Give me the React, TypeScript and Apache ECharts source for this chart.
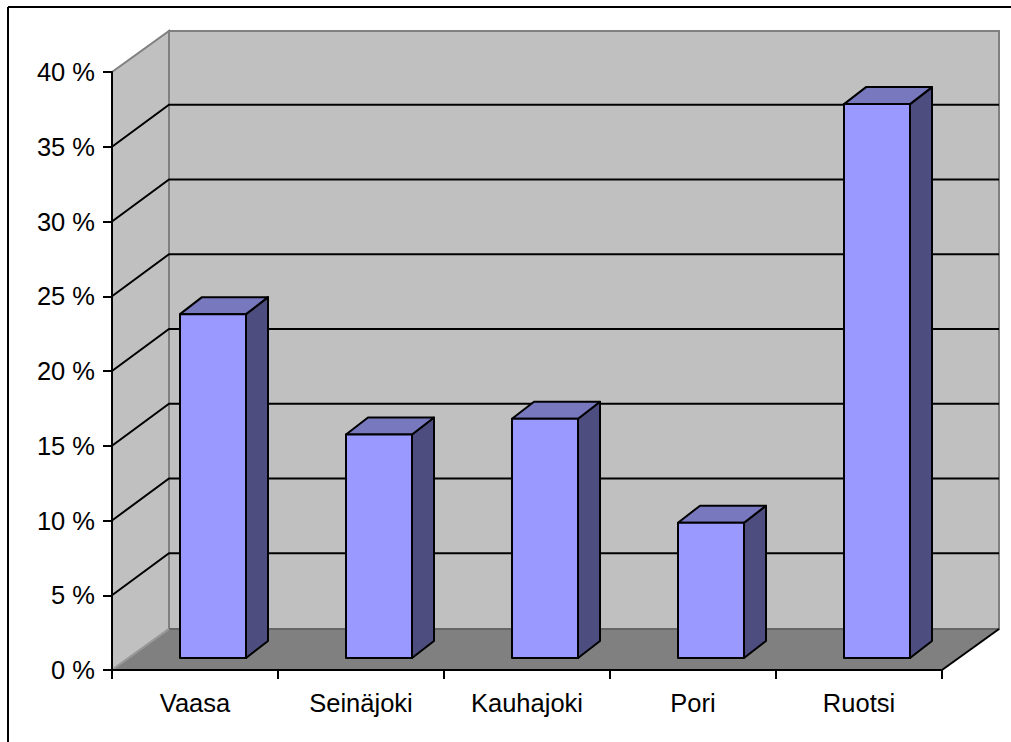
import React, { useEffect, useRef } from "react";
import * as echarts from "echarts";

const categories = ["Vaasa", "Seinäjoki", "Kauhajoki", "Pori", "Ruotsi"];
const shares = [23.0, 14.95, 16.0, 9.05, 37.05];
const gridValues = [5, 10, 15, 20, 25, 30, 35];

const DEPTH_X = 57;
const DEPTH_Y = 41;
const GRID_DEPTH_Y = 42;
const BAR_SHIFT_X = 18;
const BAR_SHIFT_Y = 12;
const BAR_WIDTH = 66;
const BAR_DEPTH_X = 22;
const BAR_DEPTH_Y = 17;

export default function App() {
  const ref = useRef<HTMLDivElement>(null);
  useEffect(() => {
    const chart = echarts.init(ref.current!, undefined, { renderer: "svg" });
    const font = { fontFamily: "Liberation Sans", fontSize: 25.5, color: "#000" };
    chart.setOption({
      animation: false,
      backgroundColor: "#fff",
      graphic: [
        { type: "line", shape: { x1: 8, y1: 7, x2: 8, y2: 742 }, style: { stroke: "#000", lineWidth: 2 } },
        { type: "line", shape: { x1: 8, y1: 7, x2: 1011, y2: 7 }, style: { stroke: "#000", lineWidth: 2 } },
      ],
      grid: { left: 112, top: 72, width: 830, height: 598 },
      xAxis: {
        type: "category",
        data: categories,
        z: 10,
        axisLine: { lineStyle: { color: "#000", width: 2 } },
        axisTick: { show: true, alignWithLabel: false, length: 9, lineStyle: { color: "#000", width: 2 } },
        axisLabel: { ...font, margin: 20, interval: 0 },
        splitLine: { show: false },
      },
      yAxis: {
        type: "value",
        min: 0,
        max: 40,
        interval: 5,
        z: 10,
        axisLine: { show: true, lineStyle: { color: "#000", width: 2 } },
        axisTick: { show: true, length: 9, lineStyle: { color: "#000", width: 2 } },
        axisLabel: { ...font, margin: 17, formatter: "{value} %" },
        splitLine: { show: false },
      },
      series: [
        {
          type: "custom",
          z: 1,
          silent: true,
          clip: false,
          data: [[0, 0]],
          renderItem: (params: any) => {
            const c = params.coordSys;
            const l = c.x, r = c.x + c.width, t = c.y, b = c.y + c.height;
            const gray = { stroke: "#808080", lineWidth: 2 };
            return {
              type: "group",
              children: [
                { type: "polygon", shape: { points: [[l + DEPTH_X, t - DEPTH_Y], [r + DEPTH_X, t - DEPTH_Y], [r + DEPTH_X, b - DEPTH_Y], [l + DEPTH_X, b - DEPTH_Y]] }, style: { fill: "#c0c0c0", ...gray } },
                { type: "polygon", shape: { points: [[l, t], [l + DEPTH_X, t - DEPTH_Y], [l + DEPTH_X, b - DEPTH_Y], [l, b]] }, style: { fill: "#c0c0c0", ...gray } },
                { type: "polygon", shape: { points: [[l, b], [l + DEPTH_X, b - DEPTH_Y], [r + DEPTH_X, b - DEPTH_Y], [r, b]] }, style: { fill: "#808080", stroke: "none" } },
                { type: "line", shape: { x1: l + DEPTH_X, y1: b - DEPTH_Y, x2: r + DEPTH_X, y2: b - DEPTH_Y }, style: { stroke: "#666", lineWidth: 2 } },
                { type: "line", shape: { x1: l, y1: b, x2: l + DEPTH_X, y2: b - DEPTH_Y }, style: { stroke: "#999", lineWidth: 2 } },
                { type: "line", shape: { x1: r, y1: b, x2: r + DEPTH_X, y2: b - DEPTH_Y }, style: { stroke: "#000", lineWidth: 2 } },
              ],
            };
          },
        },
        {
          type: "custom",
          z: 2,
          silent: true,
          clip: false,
          data: gridValues.map((v) => [0, v]),
          encode: { x: 0, y: 1 },
          renderItem: (params: any, api: any) => {
            const c = params.coordSys;
            const y = api.coord([0, api.value(1)])[1];
            return {
              type: "polyline",
              shape: { points: [[c.x, y], [c.x + DEPTH_X, y - GRID_DEPTH_Y], [c.x + c.width + DEPTH_X, y - GRID_DEPTH_Y]] },
              style: { fill: "none", stroke: "#000", lineWidth: 2 },
            };
          },
        },
        {
          type: "custom",
          z: 3,
          clip: false,
          data: shares.map((v, i) => [i, v]),
          encode: { x: 0, y: 1 },
          renderItem: (_params: any, api: any) => {
            const i = api.value(0);
            const top = api.coord([i, api.value(1)]);
            const base = api.coord([i, 0]);
            const l = top[0] + BAR_SHIFT_X - BAR_WIDTH / 2;
            const r = l + BAR_WIDTH;
            const t = top[1] - BAR_SHIFT_Y;
            const b = base[1] - BAR_SHIFT_Y;
            const edge = { stroke: "#000", lineWidth: 2, lineJoin: "round" };
            return {
              type: "group",
              children: [
                { type: "polygon", shape: { points: [[r, t], [r + BAR_DEPTH_X, t - BAR_DEPTH_Y], [r + BAR_DEPTH_X, b - BAR_DEPTH_Y], [r, b]] }, style: { fill: "#4d4d80", ...edge } },
                { type: "polygon", shape: { points: [[l, t], [l + BAR_DEPTH_X, t - BAR_DEPTH_Y], [r + BAR_DEPTH_X, t - BAR_DEPTH_Y], [r, t]] }, style: { fill: "#7878bf", ...edge } },
                { type: "polygon", shape: { points: [[l, t], [r, t], [r, b], [l, b]] }, style: { fill: "#9999ff", ...edge } },
              ],
            };
          },
        },
      ],
    });
    return () => chart.dispose();
  }, []);
  return <div ref={ref} style={{ position: "absolute", left: 0, top: 0, width: 1011, height: 742 }} />;
}
